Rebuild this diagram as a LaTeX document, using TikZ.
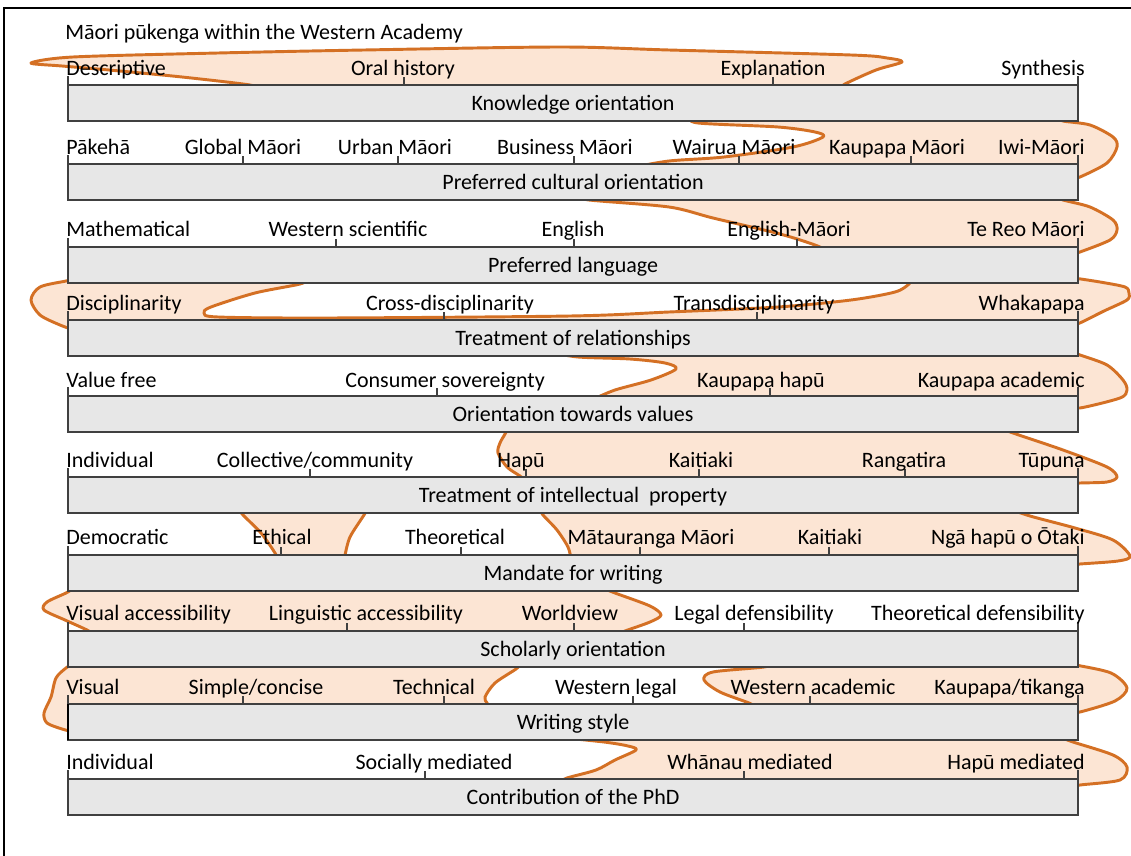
\documentclass[tikz,border=0pt]{standalone}
\usepackage{fontspec}
\setmainfont{Carlito}
\definecolor{barfill}{RGB}{231,231,231}
\definecolor{barline}{RGB}{64,64,64}
\definecolor{bandline}{RGB}{212,112,36}
\definecolor{bandfill}{RGB}{252,229,212}
\begin{document}
\begin{tikzpicture}[x=0.75pt,y=-0.75pt,
  scalebar/.style={fill=barfill,draw=barline,line width=0.8pt},
  tickmark/.style={draw=barline,line width=0.8pt},
  band/.style={fill=bandfill,draw=bandline,line width=2.2pt,line join=round,line cap=round},
  txt/.style={inner sep=0pt,font=\fontsize{16.5}{19}\selectfont},
  lab/.style={txt,anchor=base},
  labl/.style={txt,anchor=base west},
  labr/.style={txt,anchor=base east}]
\useasboundingbox (0,0) rectangle (1131,856);
\fill[white] (0,0) rectangle (1131,856);
% outer frame (left and top edges)
\draw[line width=1.5pt] (4,856) -- (4,8) -- (1131,8);

% ---- shaded bands of the profile, drawn beneath the scale bars ----
% band 1
\filldraw[band] plot[smooth] coordinates {(255,89) (250,85) (182,77) (109,70) (62,66) (31,63) (73,57) (218,53) (364,50) (560,47) (669,50) (851,55) (887,58) (902,62) (876,70) (845,84) (840,89)} -- cycle;
% band 2
\filldraw[band] plot[smooth] coordinates {(690,117) (698,123) (778,127) (815,132) (823,137) (793,147) (724,157) (669,161) (630,168)} -- (1072,168)
  -- plot[smooth] coordinates {(1072,178) (1080,177) (1107,163) (1117,147) (1113,137) (1090,125) (1063,121) (1055,117)} -- cycle;
% band 3
\filldraw[band] plot[smooth] coordinates {(578,196) (589,200) (669,207) (713,218) (780,234) (815,245) (830,252)} -- (1072,252)
  -- plot[smooth] coordinates {(1072,254) (1080,252) (1110,240) (1117,230) (1113,220) (1090,207) (1063,200) (1055,196)} -- cycle;
% band 4
\filldraw[band] plot[smooth] coordinates {(74,279) (66,281) (40,287) (31,300) (40,315) (60,325) (74,330)} -- (1072,330)
  -- plot[smooth] coordinates {(1072,326) (1082,322) (1104,311) (1127,300) (1129,293) (1125,287) (1100,282) (1074,278)} -- (912,279)
  -- plot[smooth] coordinates {(912,279) (909,284) (895,292) (851,300) (778,307) (669,312) (570,316) (327,318) (218,317) (204,313) (211,307) (255,293) (300,284) (308,279)} -- cycle;
% band 5
\filldraw[band] plot[smooth] coordinates {(550,352) (578,357) (630,359) (665,363) (676,369) (651,380) (615,390) (594,399)} -- (1072,400)
  -- plot[smooth] coordinates {(1072,405) (1080,408) (1120,398) (1127,390) (1123,380) (1107,365) (1080,355) (1072,352)} -- cycle;
% band 6
\filldraw[band] plot[smooth] coordinates {(508,428) (505,434) (500,443) (498,453) (507,467) (520,476) (526,481)} -- (1072,481)
  -- plot[smooth] coordinates {(1072,484) (1080,483) (1107,482) (1117,477) (1107,467) (1063,450) (1013,433) (1000,428)} -- cycle;
% band 7
\filldraw[band] plot[smooth] coordinates {(239,509) (243,515) (261,533) (275,553) (277,559)} -- (344,559)
  -- plot[smooth] coordinates {(344,559) (345,555) (350,537) (364,515) (367,509)} -- cycle;
\filldraw[band] plot[smooth] coordinates {(540,509) (543,515) (557,530) (568,547) (571,559)} -- (1072,559)
  -- plot[smooth] coordinates {(1072,565) (1080,564) (1118,561) (1130,556) (1113,540) (1075,528) (1030,516) (1010,509)} -- cycle;
% band 8
\filldraw[band] plot[smooth] coordinates {(74,588) (66,593) (47,602) (44,610) (65,620) (87,630) (94,635)} -- (616,635)
  -- plot[smooth] coordinates {(616,635) (625,631) (650,622) (661,615) (650,606) (615,593) (600,587)} -- cycle;
% band 9
\filldraw[band] plot[smooth] coordinates {(74,663) (66,668) (56,678) (51,697) (44,713) (47,723) (62,729) (74,732)} -- (490,708)
  -- plot[smooth] coordinates {(490,708) (487,703) (485,697) (495,683) (516,669) (522,663)} -- cycle;
\filldraw[band] plot[smooth] coordinates {(772,663) (764,667) (713,672) (704,680) (720,692) (749,703) (758,708)} -- (1072,708)
  -- plot[smooth] coordinates {(1072,712) (1080,712) (1115,701) (1127,688) (1111,673) (1076,665) (1068,663)} -- cycle;
% band 10
\filldraw[band] plot[smooth] coordinates {(555,737) (604,742) (628,746) (636,750) (615,760) (596,770) (567,778) (558,783)} -- (1072,783)
  -- plot[smooth] coordinates {(1072,787) (1080,785) (1120,780) (1127,767) (1113,755) (1073,742) (1060,737)} -- cycle;

% ---- scale bars ----
\foreach \t in {85,164,247,320,396,477,555,631,704,779}{
  \draw[scalebar] (68,\t) rectangle (1078,\t+36);
  \draw[tickmark] (68,\t) -- (68,\t-9);
  \draw[tickmark] (1078,\t) -- (1078,\t-9);
}
\draw[line width=1.6pt] (68,704) -- (68,740);

% ---- title ----
\node[labl] (title) at (65,40) {Māori pūkenga within the Western Academy};

% ---- row 1 ----
\foreach \x in {404,773} \draw[tickmark] (\x,85) -- (\x,77);
\node[labl] (r1a) at (66,75) {Descriptive};
\node[lab]  (r1b) at (403,75) {Oral history};
\node[lab]  (r1c) at (773,75) {Explanation};
\node[labr] (r1d) at (1085,75) {Synthesis};
\node[lab]  (r1t) at (573,110) {Knowledge orientation};

% ---- row 2 ----
\foreach \x in {243,398,574,739,911} \draw[tickmark] (\x,164) -- (\x,156);
\node[labl] (r2a) at (66,154) {Pākehā};
\node[lab]  (r2b) at (243,154) {Global Māori};
\node[lab]  (r2c) at (395,154) {Urban Māori};
\node[lab]  (r2d) at (565,154) {Business Māori};
\node[lab]  (r2e) at (734,154) {Wairua Māori};
\node[lab]  (r2f) at (897,154) {Kaupapa Māori};
\node[labr] (r2g) at (1085,154) {Iwi-Māori};
\node[lab]  (r2t) at (573,189) {Preferred cultural orientation};

% ---- row 3 ----
\foreach \x in {336,574,797} \draw[tickmark] (\x,247) -- (\x,239);
\node[labl] (r3a) at (66,236) {Mathematical};
\node[lab]  (r3b) at (348,236) {Western scientific};
\node[lab]  (r3c) at (573,236) {English};
\node[lab]  (r3d) at (789,236) {English-Māori};
\node[labr] (r3e) at (1085,236) {Te Reo Māori};
\node[lab]  (r3t) at (573,272) {Preferred language};

% ---- row 4 ----
\foreach \x in {444,757} \draw[tickmark] (\x,320) -- (\x,312);
\node[labl] (r4a) at (66,310) {Disciplinarity};
\node[lab]  (r4b) at (450,310) {Cross-disciplinarity};
\node[lab]  (r4c) at (754,310) {Transdisciplinarity};
\node[labr] (r4d) at (1085,310) {Whakapapa};
\node[lab]  (r4t) at (573,345) {Treatment of relationships};

% ---- row 5 ----
\foreach \x in {437,770} \draw[tickmark] (\x,396) -- (\x,388);
\node[labl] (r5a) at (66,387) {Value free};
\node[lab]  (r5b) at (445,387) {Consumer sovereignty};
\node[lab]  (r5c) at (761,387) {Kaupapa hapū};
\node[labr] (r5d) at (1085,387) {Kaupapa academic};
\node[lab]  (r5t) at (573,421) {Orientation towards values};

% ---- row 6 ----
\foreach \x in {310,526,699,905} \draw[tickmark] (\x,477) -- (\x,469);
\node[labl] (r6a) at (66,467) {Individual};
\node[lab]  (r6b) at (315,467) {Collective/community};
\node[lab]  (r6c) at (521,467) {Hapū};
\node[lab]  (r6d) at (701,467) {Kaitiaki};
\node[lab]  (r6e) at (904,467) {Rangatira};
\node[labr] (r6f) at (1085,467) {Tūpuna};
\node[lab]  (r6t) at (573,502) {Treatment of intellectual~ property};

% ---- row 7 ----
\foreach \x in {281,461,640,829} \draw[tickmark] (\x,555) -- (\x,547);
\node[labl] (r7a) at (66,544) {Democratic};
\node[lab]  (r7b) at (282,544) {Ethical};
\node[lab]  (r7c) at (455,544) {Theoretical};
\node[lab]  (r7d) at (651,544) {Mātauranga Māori};
\node[lab]  (r7e) at (830,544) {Kaitiaki};
\node[labr] (r7f) at (1085,544) {Ngā hapū o Ōtaki};
\node[lab]  (r7t) at (573,580) {Mandate for writing};

% ---- row 8 ----
\foreach \x in {347,574,744} \draw[tickmark] (\x,631) -- (\x,623);
\node[labl] (r8a) at (66,620) {Visual accessibility};
\node[lab]  (r8b) at (366,620) {Linguistic accessibility};
\node[lab]  (r8c) at (570,620) {Worldview};
\node[lab]  (r8d) at (754,620) {Legal defensibility};
\node[labr] (r8e) at (1085,620) {Theoretical defensibility};
\node[lab]  (r8t) at (573,656) {Scholarly orientation};

% ---- row 9 ----
\foreach \x in {243,444,633,810} \draw[tickmark] (\x,704) -- (\x,696);
\node[labl] (r9a) at (66,694) {Visual};
\node[lab]  (r9b) at (256,694) {Simple/concise};
\node[lab]  (r9c) at (434,694) {Technical};
\node[lab]  (r9d) at (616,694) {Western legal};
\node[lab]  (r9e) at (813,694) {Western academic};
\node[labr] (r9f) at (1085,694) {Kaupapa/tikanga};
\node[lab]  (r9t) at (573,729) {Writing style};

% ---- row 10 ----
\foreach \x in {425,744} \draw[tickmark] (\x,779) -- (\x,771);
\node[labl] (r10a) at (66,769) {Individual};
\node[lab]  (r10b) at (434,769) {Socially mediated};
\node[lab]  (r10c) at (750,769) {Whānau mediated};
\node[labr] (r10d) at (1085,769) {Hapū mediated};
\node[lab]  (r10t) at (573,804) {Contribution of the PhD};
\end{tikzpicture}
\end{document}
